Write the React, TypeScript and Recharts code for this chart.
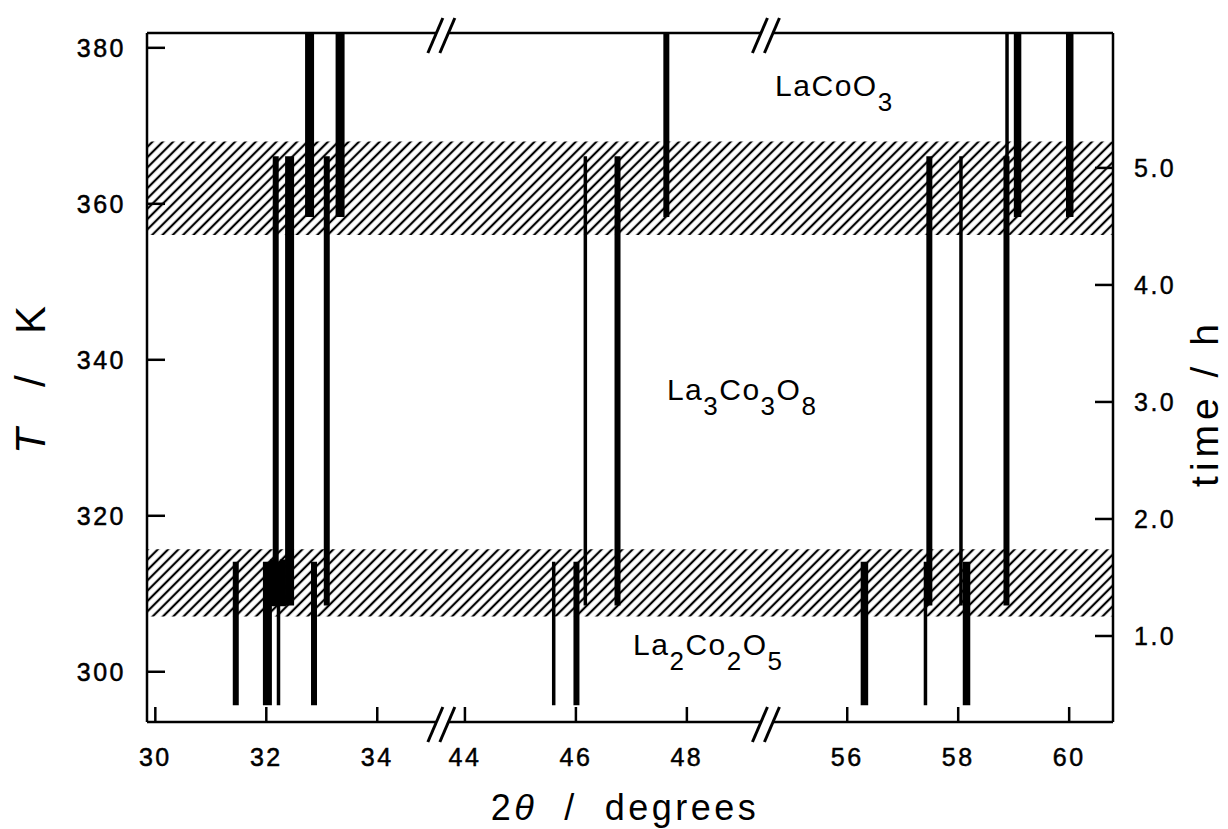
import React from 'react';
import { ComposedChart, XAxis, YAxis, ReferenceArea, ReferenceDot, Scatter, ErrorBar } from 'recharts';

const FONT = '"Liberation Sans", Arial, Helvetica, sans-serif';

// ---- broken 2θ axis: the three windows that are shown ----
const windowStart = [29.85, 43.62, 54.58];
const windowEnd = [35.2, 49.47, 60.79];

// ---- ticks ----
const xTickValues = [30, 32, 34, 44, 46, 48, 56, 58, 60];
const tempTicks = [300, 320, 340, 360, 380];
const timeTicks = [1, 2, 3, 4, 5];
const tempDomain = [293.56, 381.9];
const timeDomain = [0.265, 6.153];

// ---- hatched transition bands (K) ----
const lowerBand = [307.1, 315.7];
const upperBand = [356.0, 368.0];

// ---- LaCoO3 reflections ----
const lacoPos = [32.78, 33.33, 47.63, 58.88, 59.07, 60.01];
const lacoWeight = ['heavy', 'heavy', 'medium', 'thin', 'thick', 'thick'];
const lacoRange = [358.3, 381.9];

// ---- La3Co3O8 reflections ----
const la3Pos = [32.17, 32.42, 33.09, 46.17, 46.75, 57.48, 58.05, 58.87];
const la3Weight = ['medium', 'heavy', 'medium', 'thin', 'medium', 'medium', 'thin', 'medium'];
const la3Range = [308.5, 366.1];

// ---- La2Co2O5 reflections ----
const la2Pos = [31.45, 32.02, 32.22, 32.86, 45.6, 46.01, 56.31, 57.41, 58.15];
const la2Weight = ['medium', 'heavy', 'thin', 'medium', 'thin', 'medium', 'thick', 'thin', 'thick'];
const la2Range = [295.7, 314.1];

// ---- overlapping reflections inside the lower band ----
const mixPos = [32.12, 32.3];
const mixWeight = ['medium', 'medium'];
const mixRange = [308.4, 314.4];

// ---- phase labels: [text, subscript] parts, anchor (2θ, K) ----
const phaseParts = [
  [['La', ''], ['Co', ''], ['O', '3']],
  [['La', '3'], ['Co', '3'], ['O', '8']],
  [['La', '2'], ['Co', '2'], ['O', '5']],
];
const phaseX = [54.7, 47.64, 47.03];
const phaseT = [373.77, 334.79, 302.14];

const weightClasses = ['thin', 'medium', 'thick', 'heavy'];
const WEIGHT_PX: Record<string, number> = { thin: 3.5, medium: 6, thick: 7.5, heavy: 9 };

// layout
const W = 1228;
const H = 829;
const PLOT_LEFT = 147;
const PLOT_RIGHT = 1113;
const PLOT_TOP = 32;
const PLOT_BOTTOM = 722;

function toU(t: number): number {
  let u0 = windowStart[0];
  for (let i = 0; i < windowStart.length; i++) {
    if (t <= windowEnd[i] || i === windowStart.length - 1) return u0 + (t - windowStart[i]);
    u0 += windowEnd[i] - windowStart[i];
  }
  return t;
}
function fromU(u: number): number {
  let u0 = windowStart[0];
  for (let i = 0; i < windowStart.length; i++) {
    const len = windowEnd[i] - windowStart[i];
    if (u <= u0 + len + 1e-9 || i === windowStart.length - 1) return windowStart[i] + (u - u0);
    u0 += len;
  }
  return u;
}
const uMin = toU(windowStart[0]);
const uMax = toU(windowEnd[windowEnd.length - 1]);
const uTicks = xTickValues.map(toU);
const uBreaks = windowStart.slice(1).map((s) => toU(s));

// table of reflections built from the arrays above
type Row = { u: number; mid: number; err: number; w: string };
const peakRows: Row[] = [];
const addRows = (pos: number[], weight: string[], range: number[]) =>
  pos.forEach((p, i) =>
    peakRows.push({ u: toU(p), mid: (range[0] + range[1]) / 2, err: (range[1] - range[0]) / 2, w: weight[i] })
  );
addRows(lacoPos, lacoWeight, lacoRange);
addRows(la3Pos, la3Weight, la3Range);
addRows(la2Pos, la2Weight, la2Range);
addRows(mixPos, mixWeight, mixRange);

const txt = { fontFamily: FONT, fill: '#000' } as const;

const XTick = (p: any) => {
  const { x, y, payload } = p;
  const label = Math.round(fromU(payload.value));
  return (
    <g>
      <line x1={x} y1={y} x2={x} y2={y - 15} stroke="#000" strokeWidth={2.5} />
      <text x={x} y={y + 44} textAnchor="middle" fontSize={25} letterSpacing={2.5} stroke="#000" strokeWidth={0.5} {...txt}>
        {label}
      </text>
    </g>
  );
};
const LeftTick = (p: any) => {
  const { x, y, payload } = p;
  return (
    <g>
      <line x1={x} y1={y} x2={x + 18} y2={y} stroke="#000" strokeWidth={2.5} />
      <text x={x - 21} y={y} dy="0.35em" textAnchor="end" fontSize={25} letterSpacing={2.5} stroke="#000" strokeWidth={0.5} {...txt}>
        {payload.value}
      </text>
    </g>
  );
};
const RightTick = (p: any) => {
  const { x, y, payload } = p;
  return (
    <g>
      <line x1={x} y1={y} x2={x - 18} y2={y} stroke="#000" strokeWidth={2.5} />
      <text x={x + 21} y={y} dy="0.35em" textAnchor="start" fontSize={25} letterSpacing={2.5} stroke="#000" strokeWidth={0.4} {...txt}>
        {Number(payload.value).toFixed(1)}
      </text>
    </g>
  );
};

const BreakMark = (p: any) => {
  const { cx, cy } = p;
  return (
    <g>
      <rect x={cx - 7} y={cy - 4} width={11} height={8} fill="#fff" />
      <line x1={cx - 16} y1={cy + 20} x2={cx - 1} y2={cy - 15} stroke="#000" strokeWidth={3} />
      <line x1={cx - 4} y1={cy + 20} x2={cx + 11} y2={cy - 15} stroke="#000" strokeWidth={3} />
    </g>
  );
};

const makePhaseLabel = (parts: string[][]) => (p: any) => {
  const { cx, cy } = p;
  const kids: React.ReactNode[] = [];
  let down = false;
  parts.forEach(([main, sub], i) => {
    kids.push(
      <tspan key={'m' + i} fontSize={30} dy={down ? -15 : 0}>
        {main}
      </tspan>
    );
    down = false;
    if (sub) {
      kids.push(
        <tspan key={'s' + i} fontSize={26} dy={15}>
          {sub}
        </tspan>
      );
      down = true;
    }
  });
  return (
    <text x={cx} y={cy} textAnchor="start" letterSpacing={1.5} {...txt}>
      {kids}
    </text>
  );
};

const LeftTitle = () => {
  const cx = 30;
  const cy = (PLOT_TOP + PLOT_BOTTOM) / 2;
  return (
    <text x={cx} y={cy} transform={`rotate(-90 ${cx} ${cy})`} textAnchor="middle" dominantBaseline="central" fontSize={42} letterSpacing={6} style={{ whiteSpace: 'pre' }} {...txt}>
      <tspan fontStyle="italic">T</tspan>
      <tspan>{'  /  K'}</tspan>
    </text>
  );
};
const RightTitle = () => {
  const cx = 1204;
  const cy = 403;
  return (
    <text x={cx} y={cy} transform={`rotate(-90 ${cx} ${cy})`} textAnchor="middle" dominantBaseline="central" fontSize={39} letterSpacing={5} style={{ whiteSpace: 'pre' }} {...txt}>
      time / h
    </text>
  );
};
const BottomTitle = () => {
  const cx = (PLOT_LEFT + PLOT_RIGHT) / 2 - 5;
  return (
    <text x={cx} y={820} textAnchor="middle" fontSize={36} letterSpacing={3.5} style={{ whiteSpace: 'pre' }} {...txt}>
      <tspan>2</tspan>
      <tspan fontStyle="italic">θ</tspan>
      <tspan>{'  /  degrees'}</tspan>
    </text>
  );
};

const NoMarker = () => <g />;

export default function App() {
  return (
    <div style={{ position: 'absolute', left: 0, top: 0, width: W, height: H, background: '#fff' }}>
      <ComposedChart width={W} height={H} data={peakRows} margin={{ top: PLOT_TOP, right: 0, bottom: 0, left: 0 }}>
        <defs>
          <pattern id="hatch" patternUnits="userSpaceOnUse" width={7.3} height={7.3} patternTransform="rotate(45)">
            <line x1={3.65} y1={0} x2={3.65} y2={7.3} stroke="#000" strokeWidth={2.2} />
          </pattern>
        </defs>
        <XAxis
          xAxisId="b"
          dataKey="u"
          type="number"
          orientation="bottom"
          domain={[uMin, uMax]}
          allowDataOverflow
          ticks={uTicks}
          interval={0}
          height={H - PLOT_BOTTOM}
          tickSize={0}
          tickMargin={0}
          tickLine={false}
          axisLine={{ stroke: '#000', strokeWidth: 2.5 }}
          tick={<XTick />}
          label={<BottomTitle />}
        />
        <XAxis
          xAxisId="t"
          dataKey="u"
          type="number"
          orientation="top"
          domain={[uMin, uMax]}
          allowDataOverflow
          height={1}
          tick={false}
          tickLine={false}
          axisLine={{ stroke: '#000', strokeWidth: 2.5 }}
        />
        <YAxis
          yAxisId="T"
          orientation="left"
          type="number"
          domain={tempDomain}
          allowDataOverflow
          ticks={tempTicks}
          interval={0}
          width={PLOT_LEFT}
          tickSize={0}
          tickMargin={0}
          tickLine={false}
          axisLine={{ stroke: '#000', strokeWidth: 2.5 }}
          tick={<LeftTick />}
          label={<LeftTitle />}
        />
        <YAxis
          yAxisId="time"
          orientation="right"
          type="number"
          domain={timeDomain}
          allowDataOverflow
          ticks={timeTicks}
          interval={0}
          width={W - PLOT_RIGHT}
          tickSize={0}
          tickMargin={0}
          tickLine={false}
          axisLine={{ stroke: '#000', strokeWidth: 2.5 }}
          tick={<RightTick />}
          label={<RightTitle />}
        />

        <ReferenceArea xAxisId="b" yAxisId="T" x1={uMin} x2={uMax} y1={upperBand[0]} y2={upperBand[1]} fill="url(#hatch)" fillOpacity={1} stroke="none" />
        <ReferenceArea xAxisId="b" yAxisId="T" x1={uMin} x2={uMax} y1={lowerBand[0]} y2={lowerBand[1]} fill="url(#hatch)" fillOpacity={1} stroke="none" />

        {weightClasses.map((wc) => (
          <Scatter
            key={wc}
            xAxisId="b"
            yAxisId="T"
            data={peakRows.filter((r) => r.w === wc)}
            dataKey="mid"
            shape={<NoMarker />}
            isAnimationActive={false}
          >
            <ErrorBar dataKey="err" direction="y" width={0} stroke="#000" strokeWidth={WEIGHT_PX[wc]} isAnimationActive={false} />
          </Scatter>
        ))}

        {phaseParts.map((parts, i) => (
          <ReferenceDot
            key={'lbl' + i}
            xAxisId="b"
            yAxisId="T"
            x={toU(phaseX[i])}
            y={phaseT[i]}
            r={1}
            ifOverflow="visible"
            shape={makePhaseLabel(parts)}
          />
        ))}

        {uBreaks.map((u, i) => (
          <ReferenceDot key={'bb' + i} xAxisId="b" yAxisId="T" x={u} y={tempDomain[0]} r={1} ifOverflow="visible" shape={<BreakMark />} />
        ))}
        {uBreaks.map((u, i) => (
          <ReferenceDot key={'bt' + i} xAxisId="b" yAxisId="T" x={u} y={tempDomain[1]} r={1} ifOverflow="visible" shape={<BreakMark />} />
        ))}
      </ComposedChart>
    </div>
  );
}
